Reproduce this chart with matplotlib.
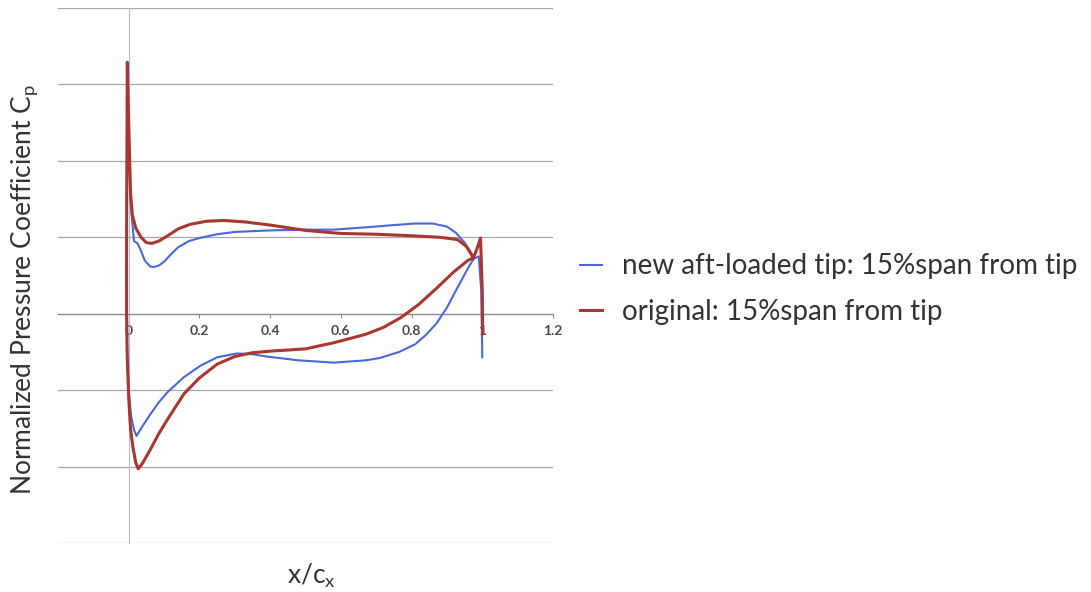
#!/usr/bin/env python3
"""Normalized pressure coefficient along chord, new aft-loaded tip vs original."""

import matplotlib.pyplot as plt
import numpy as np

plt.rcParams.update({
    "font.family": ["Lato", "DejaVu Sans"],
    "mathtext.fontset": "custom",
    "mathtext.rm": "Lato",
    "mathtext.it": "Lato",
})

# new aft-loaded tip: 15%span from tip  (suction side, LE -> TE)
new_upper_x = [-0.004, 0.0, 0.005, 0.01, 0.015, 0.025, 0.035, 0.045, 0.06, 0.07,
               0.085, 0.10, 0.12, 0.14, 0.17, 0.20, 0.25, 0.30, 0.40, 0.50,
               0.58, 0.67, 0.75, 0.81, 0.86, 0.90, 0.925, 0.95, 0.976]
new_upper_cp = [3.20, 2.40, 1.50, 1.20, 0.95, 0.92, 0.82, 0.70, 0.62, 0.61,
                0.63, 0.68, 0.78, 0.87, 0.95, 0.99, 1.04, 1.07, 1.09, 1.10,
                1.10, 1.13, 1.16, 1.18, 1.18, 1.14, 1.06, 0.93, 0.74]
# pressure side, LE -> TE (incl. trailing edge spike)
new_lower_x = [-0.004, -0.006, -0.005, 0.0, 0.007, 0.015, 0.022, 0.035, 0.062, 0.085,
               0.109, 0.156, 0.203, 0.25, 0.306, 0.35, 0.39, 0.48, 0.58, 0.67,
               0.71, 0.765, 0.81, 0.84, 0.87, 0.90, 0.925, 0.96, 0.976, 0.99,
               0.997, 1.0]
new_lower_cp = [3.20, 0.50, -0.50, -1.00, -1.35, -1.52, -1.60, -1.50, -1.31, -1.16,
                -1.03, -0.83, -0.68, -0.57, -0.52, -0.53, -0.56, -0.61, -0.64, -0.61,
                -0.58, -0.50, -0.40, -0.28, -0.13, 0.08, 0.30, 0.60, 0.72, 0.75,
                0.30, -0.57]

# original: 15%span from tip
orig_upper_x = [-0.004, 0.0, 0.005, 0.01, 0.02, 0.035, 0.05, 0.065, 0.085, 0.11,
                0.14, 0.174, 0.22, 0.27, 0.33, 0.40, 0.50, 0.60, 0.70, 0.80,
                0.88, 0.93, 0.955, 0.975]
orig_upper_cp = [3.29, 2.50, 1.60, 1.30, 1.12, 1.00, 0.93, 0.92, 0.95, 1.02,
                 1.11, 1.17, 1.21, 1.22, 1.20, 1.16, 1.09, 1.05, 1.04, 1.02,
                 1.00, 0.97, 0.88, 0.73]
orig_lower_x = [-0.004, -0.006, -0.006, -0.004, 0.0, 0.005, 0.012, 0.02, 0.027, 0.04,
                0.062, 0.085, 0.11, 0.156, 0.20, 0.25, 0.30, 0.35, 0.40, 0.50,
                0.58, 0.67, 0.72, 0.77, 0.82, 0.87, 0.92, 0.96, 0.975, 0.985,
                0.995, 1.0, 1.001]
orig_lower_cp = [3.29, 1.00, 0.00, -0.60, -1.10, -1.50, -1.75, -1.95, -2.03, -1.95,
                 -1.77, -1.57, -1.38, -1.05, -0.84, -0.66, -0.56, -0.51, -0.49, -0.46,
                 -0.38, -0.27, -0.18, -0.05, 0.12, 0.33, 0.55, 0.70, 0.73, 0.85,
                 0.99, 0.30, -0.26]

x_ticks = [0, 0.2, 0.4, 0.6, 0.8, 1, 1.2]
x_tick_labels = ["0", "0.2", "0.4", "0.6", "0.8", "1", "1.2"]


def loop(ux, ucp, lx, lcp):
    x = np.concatenate([np.array(ux)[::-1], np.array(lx)])
    y = np.concatenate([np.array(ucp)[::-1], np.array(lcp)])
    return x, y


fig = plt.figure(figsize=(10.91, 5.92), dpi=100)
ax = fig.add_axes([58 / 1091, 1 - 543 / 592, (553 - 58) / 1091, (543 - 8) / 592])

ax.set_xlim(-0.2, 1.2)
ax.set_ylim(-3, 4)

ax.set_yticks(range(-3, 5))
ax.set_yticklabels([])
ax.tick_params(axis="y", length=0)
ax.grid(axis="y", color="#A8A8A8", linewidth=0.9)
ax.set_axisbelow(True)

for side in ("top", "right"):
    ax.spines[side].set_visible(False)
ax.spines["left"].set_position(("data", 0))
ax.spines["left"].set_color("#B4BAD6")
ax.spines["left"].set_linewidth(0.8)
ax.spines["bottom"].set_position(("data", 0))
ax.spines["bottom"].set_color("#8C8C8C")
ax.spines["bottom"].set_linewidth(0.9)

ax.set_xticks(x_ticks)
ax.set_xticklabels(x_tick_labels, fontweight="bold")
ax.tick_params(axis="x", length=3, color="#8C8C8C", pad=5, labelsize=10,
               labelcolor="#4A4A4A")

bx, by = loop(new_upper_x, new_upper_cp, new_lower_x, new_lower_cp)
rx, ry = loop(orig_upper_x, orig_upper_cp, orig_lower_x, orig_lower_cp)
ax.plot(bx, by, color="#4A68D6", linewidth=1.5,
        label="new aft-loaded tip: 15%span from tip", zorder=3)
ax.plot(rx, ry, color="#A8382F", linewidth=2.2,
        label="original: 15%span from tip", zorder=4)

fig.text(25 / 1091, 1 - 289 / 592, "Normalized Pressure Coefficient C$_\\mathregular{p}$",
         rotation=90, ha="center", va="center", fontsize=19, color="#333333")
fig.text(311 / 1091, 1 - 576 / 592, "x/c$_\\mathregular{x}$",
         ha="center", va="center", fontsize=19, color="#333333")

fig.legend(loc="center left", bbox_to_anchor=(555 / 1091, 1 - 289 / 592),
           frameon=False, fontsize=20, handlelength=0.8, handletextpad=0.7,
           labelspacing=0.7, labelcolor="#333333")

fig.savefig("out.png", dpi=100)
